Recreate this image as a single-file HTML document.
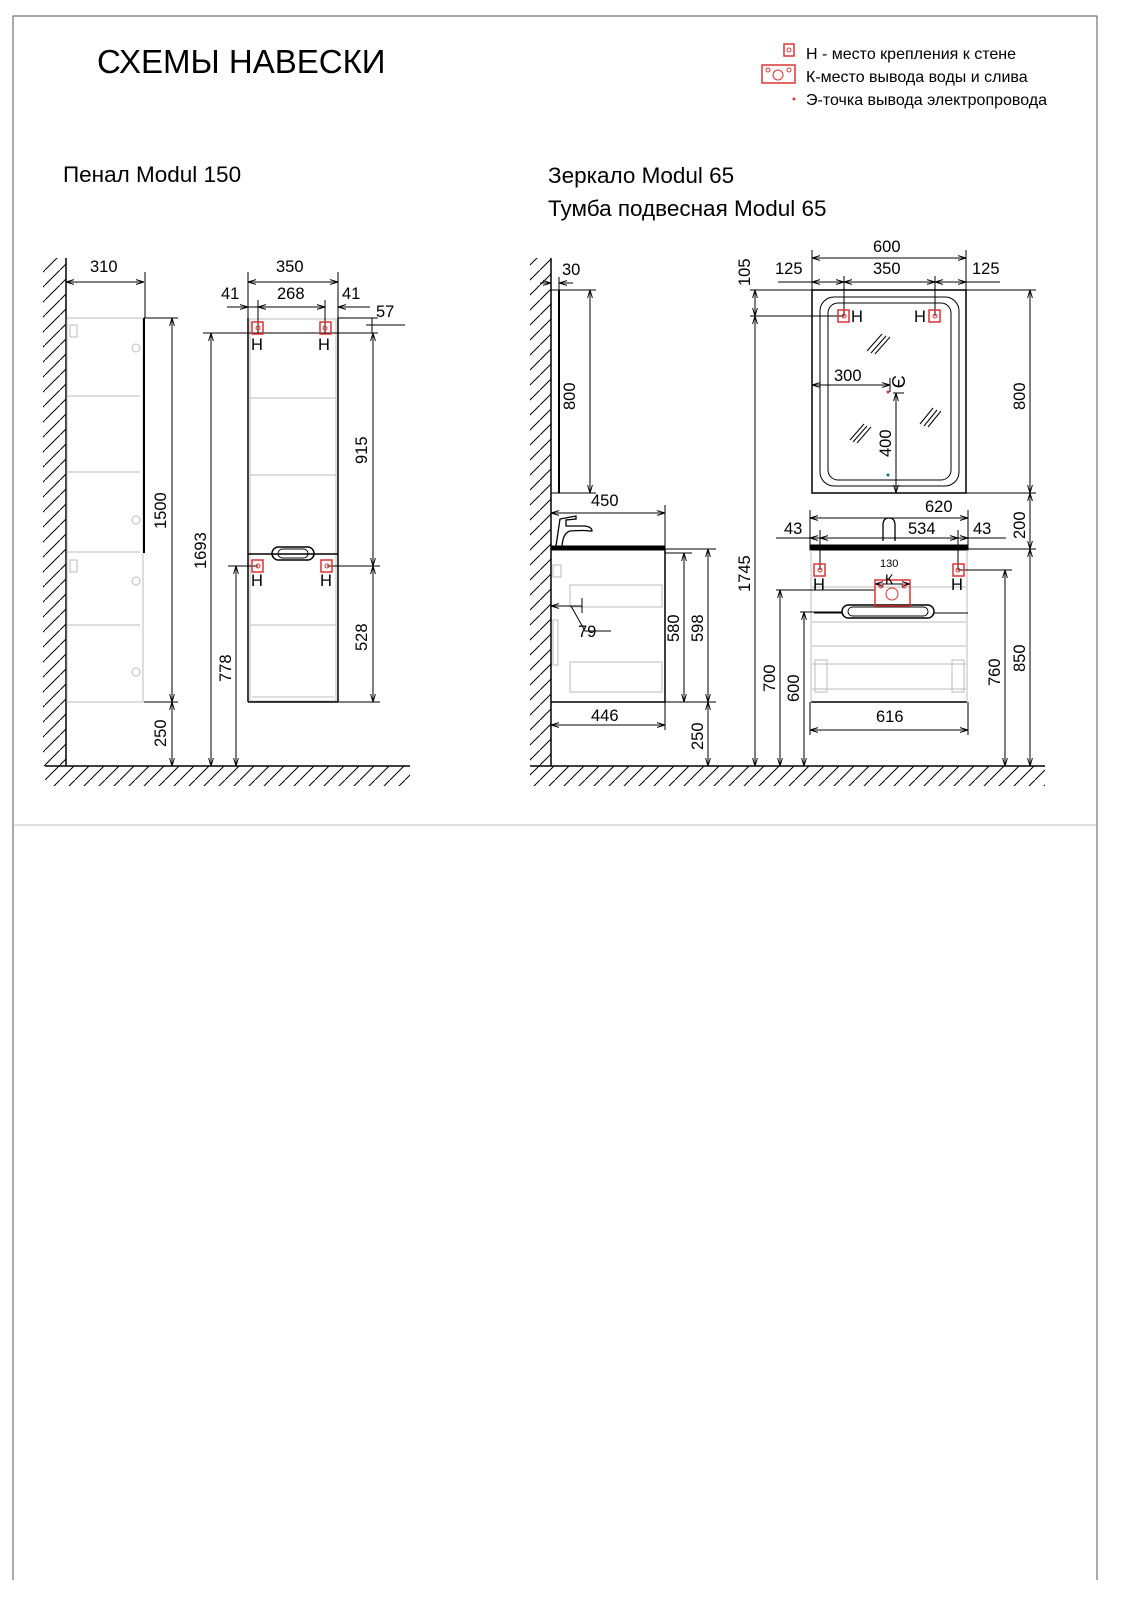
<!DOCTYPE html>
<html><head><meta charset="utf-8"><style>
html,body{margin:0;padding:0;background:#fff}
svg{display:block}
text{font-family:"Liberation Sans","DejaVu Sans",sans-serif;fill:#000}
</style></head><body>
<svg width="1132" height="1600" viewBox="0 0 1132 1600" xmlns="http://www.w3.org/2000/svg">
<defs>
<marker id="a" viewBox="0 0 10 10" refX="10" refY="5" markerWidth="8" markerHeight="8" orient="auto-start-reverse"><path d="M0,2 L10,5 L0,8" fill="none" stroke="#000" stroke-width="1.2"/></marker>
<pattern id="h" patternUnits="userSpaceOnUse" width="15" height="15"><line x1="0" y1="15" x2="15" y2="0" stroke="#000" stroke-width="1"/></pattern>
</defs>
<path d="M13,1580 V16 H1097 V1580" fill="none" stroke="#555" stroke-width="1"/>
<line x1="13" y1="825" x2="1097" y2="825" stroke="#bbb" stroke-width="1"/>
<text x="97" y="73" font-size="33">СХЕМЫ НАВЕСКИ</text>
<rect x="784" y="44" width="10" height="12" fill="none" stroke="#d33" stroke-width="1.5"/><circle cx="789" cy="50" r="2" fill="none" stroke="#d33"/>
<text x="806" y="59" font-size="16">Н - место крепления к стене</text>
<rect x="762" y="65" width="33" height="18" fill="none" stroke="#d33" stroke-width="1.5"/><circle cx="768" cy="70" r="2" fill="none" stroke="#d33"/><circle cx="789" cy="70" r="2" fill="none" stroke="#d33"/><circle cx="778" cy="75" r="5" fill="none" stroke="#d33"/>
<text x="806" y="82" font-size="16">К-место вывода воды и слива</text>
<circle cx="794" cy="99" r="1.5" fill="#d33"/>
<text x="806" y="105" font-size="16">Э-точка вывода электропровода</text>
<text x="63" y="182" font-size="22.5">Пенал Modul 150</text>
<text x="548" y="183" font-size="22.5">Зеркало Modul 65</text>
<text x="548" y="216" font-size="22.5">Тумба подвесная Modul 65</text>

<g stroke="#000" stroke-width="1" fill="none">
<rect x="43" y="258" width="23" height="508" fill="url(#h)" stroke="none"/>
<line x1="66" y1="258" x2="66" y2="766" stroke-width="1.5"/>
<rect x="45" y="766" width="365" height="20" fill="url(#h)" stroke="none"/>
<line x1="45" y1="766" x2="410" y2="766" stroke-width="1.5"/>
<rect x="530" y="258" width="21" height="508" fill="url(#h)" stroke="none"/>
<line x1="551" y1="258" x2="551" y2="766" stroke-width="1.5"/>
<rect x="530" y="766" width="515" height="20" fill="url(#h)" stroke="none"/>
<line x1="530" y1="766" x2="1045" y2="766" stroke-width="1.5"/>

<g stroke="#bbb">
<rect x="67" y="318" width="76" height="384"/>
<line x1="67" y1="396" x2="140" y2="396"/><line x1="67" y1="472" x2="140" y2="472"/>
<line x1="67" y1="552" x2="140" y2="552"/><line x1="67" y1="625" x2="140" y2="625"/>
<rect x="70" y="325" width="7" height="12"/><rect x="70" y="560" width="7" height="12"/>
<circle cx="136" cy="348" r="4"/><circle cx="136" cy="520" r="4"/><circle cx="136" cy="581" r="4"/><circle cx="136" cy="672" r="4"/>
</g>
<line x1="144" y1="318" x2="144" y2="553" stroke-width="2"/>
<line x1="144" y1="318" x2="178" y2="318"/><line x1="144" y1="702" x2="178" y2="702"/>
<line x1="66" y1="282" x2="144" y2="282" marker-start="url(#a)" marker-end="url(#a)"/>
<line x1="145" y1="272" x2="145" y2="318"/>
<line x1="172" y1="318" x2="172" y2="702" marker-start="url(#a)" marker-end="url(#a)"/>
<line x1="172" y1="702" x2="172" y2="766" marker-start="url(#a)" marker-end="url(#a)"/>

<g stroke="#bbb">
<rect x="250" y="319" width="86" height="382"/>
<line x1="250" y1="398" x2="336" y2="398"/><line x1="250" y1="475" x2="336" y2="475"/>
<line x1="250" y1="625" x2="336" y2="625"/><line x1="252" y1="697" x2="334" y2="697"/>
</g>
<line x1="248" y1="318" x2="248" y2="702" stroke-width="1.5"/>
<line x1="338" y1="318" x2="338" y2="702" stroke-width="1.5"/>
<line x1="248" y1="702" x2="338" y2="702" stroke-width="1.5"/>
<line x1="248" y1="554" x2="338" y2="554" stroke-width="1.5"/>
<rect x="272" y="547" width="42" height="13" rx="6.5" stroke-width="1.5"/>
<rect x="278" y="549" width="30" height="9" rx="4.5"/>
<line x1="248" y1="282" x2="338" y2="282" marker-start="url(#a)" marker-end="url(#a)"/>
<line x1="248" y1="272" x2="248" y2="318"/><line x1="338" y1="272" x2="338" y2="318"/>
<line x1="227" y1="307" x2="248" y2="307" marker-end="url(#a)"/>
<line x1="263" y1="307" x2="242" y2="307"/>
<line x1="258" y1="307" x2="325" y2="307" marker-start="url(#a)" marker-end="url(#a)"/>
<line x1="338" y1="307" x2="370" y2="307"/><line x1="360" y1="307" x2="338" y2="307" marker-end="url(#a)"/>
<line x1="258" y1="300" x2="258" y2="333"/><line x1="325" y1="300" x2="325" y2="333"/>
<line x1="338" y1="318" x2="378" y2="318"/>
<line x1="372" y1="318" x2="372" y2="333"/>
<line x1="366" y1="325" x2="405" y2="325"/>
<line x1="258" y1="333" x2="378" y2="333"/>
<line x1="203" y1="333" x2="258" y2="333"/>
<line x1="373" y1="333" x2="373" y2="566" marker-start="url(#a)" marker-end="url(#a)"/>
<line x1="373" y1="566" x2="373" y2="702" marker-start="url(#a)" marker-end="url(#a)"/>
<line x1="338" y1="702" x2="380" y2="702"/>
<line x1="327" y1="566" x2="380" y2="566"/>
<line x1="228" y1="566" x2="258" y2="566"/>
<line x1="211" y1="333" x2="211" y2="766" marker-start="url(#a)" marker-end="url(#a)"/>
<line x1="236" y1="566" x2="236" y2="766" marker-start="url(#a)" marker-end="url(#a)"/>
</g>
<g fill="none" stroke="#d33" stroke-width="1.5">
<rect x="252" y="322" width="11" height="12"/><rect x="320" y="322" width="11" height="12"/>
<rect x="252" y="560" width="11" height="12"/><rect x="321" y="560" width="11" height="12"/>
</g>
<g fill="none" stroke="#d33"><circle cx="258" cy="328" r="2"/><circle cx="325" cy="328" r="2"/><circle cx="258" cy="566" r="2"/><circle cx="327" cy="566" r="2"/></g>
<g font-size="16.5">
<text x="90" y="272">310</text>
<text x="276" y="272">350</text>
<text x="221" y="299">41</text><text x="277" y="299">268</text><text x="342" y="299">41</text>
<text x="376" y="317">57</text>
<text x="251" y="350">Н</text><text x="318" y="350">Н</text>
<text x="251" y="586">Н</text><text x="320" y="586">Н</text>
<text transform="translate(166,529) rotate(-90)">1500</text>
<text transform="translate(166,747) rotate(-90)">250</text>
<text transform="translate(206,569) rotate(-90)">1693</text>
<text transform="translate(231,682) rotate(-90)">778</text>
<text transform="translate(367,464) rotate(-90)">915</text>
<text transform="translate(367,651) rotate(-90)">528</text>
</g>

<g stroke="#000" fill="none">
<line x1="559" y1="290" x2="559" y2="493" stroke-width="2"/>
<line x1="551" y1="290" x2="596" y2="290"/><line x1="551" y1="493" x2="596" y2="493"/>
<line x1="559" y1="277" x2="559" y2="290"/>
<line x1="590" y1="290" x2="590" y2="493" marker-start="url(#a)" marker-end="url(#a)"/>
<line x1="540" y1="283" x2="551" y2="283" marker-end="url(#a)"/><line x1="573" y1="283" x2="559" y2="283" marker-end="url(#a)"/>
<line x1="551" y1="513" x2="665" y2="513" marker-start="url(#a)" marker-end="url(#a)"/>
<line x1="665" y1="505" x2="665" y2="549"/>
<rect x="551" y="546" width="114" height="4" fill="#000"/>
<path d="M556,546 L560,519 L576,516 L576,519 L566,520 L566,526 L585,526 Q592,527 592,531 L589,531 Q585,530 570,531 Q563,533 562,546" stroke-width="1.3"/>
<line x1="551" y1="702" x2="665" y2="702" stroke-width="1.5"/>
<line x1="665" y1="549" x2="665" y2="702" stroke-width="1.5"/>
<g stroke="#bbb"><rect x="553" y="565" width="8" height="12"/><rect x="570" y="585" width="92" height="22"/><rect x="570" y="662" width="92" height="30"/><rect x="553" y="620" width="5" height="45"/></g>
<line x1="551" y1="606" x2="582" y2="606" marker-start="url(#a)"/>
<line x1="582" y1="598" x2="582" y2="613"/>
<path d="M571,606 L585,631 L611,631"/>
<line x1="551" y1="725" x2="665" y2="725" marker-start="url(#a)" marker-end="url(#a)"/>
<line x1="665" y1="702" x2="665" y2="730"/>
<line x1="665" y1="553" x2="692" y2="553"/><line x1="665" y1="549" x2="716" y2="549"/><line x1="665" y1="702" x2="716" y2="702"/>
<line x1="684" y1="553" x2="684" y2="702" marker-start="url(#a)" marker-end="url(#a)"/>
<line x1="708" y1="549" x2="708" y2="702" marker-start="url(#a)" marker-end="url(#a)"/>
<line x1="708" y1="702" x2="708" y2="766" marker-start="url(#a)" marker-end="url(#a)"/>

<rect x="812" y="290" width="154" height="203" stroke-width="1.5"/>
<rect x="820" y="297" width="139" height="189" rx="14"/>
<rect x="828" y="303" width="123" height="177" rx="10"/>
<path d="M867,351 L882,334 M871,353 L886,336 M875,354 L890,337"/>
<path d="M850,440 L864,424 M853,442 L867,426 M857,443 L871,427"/>
<path d="M920,424 L933,408 M924,426 L937,410 M928,427 L941,411"/>
<line x1="812" y1="258" x2="966" y2="258" marker-start="url(#a)" marker-end="url(#a)"/>
<line x1="812" y1="250" x2="812" y2="290"/><line x1="966" y1="250" x2="966" y2="290"/>
<line x1="778" y1="282" x2="812" y2="282"/><line x1="966" y1="282" x2="1000" y2="282"/>
<line x1="812" y1="282" x2="844" y2="282" marker-start="url(#a)" marker-end="url(#a)"/>
<line x1="844" y1="282" x2="935" y2="282" marker-start="url(#a)" marker-end="url(#a)"/>
<line x1="935" y1="282" x2="966" y2="282" marker-start="url(#a)" marker-end="url(#a)"/>
<line x1="844" y1="276" x2="844" y2="316"/><line x1="935" y1="276" x2="935" y2="316"/>
<line x1="750" y1="290" x2="1036" y2="290"/>
<line x1="750" y1="316" x2="844" y2="316"/>
<line x1="755" y1="290" x2="755" y2="316" marker-start="url(#a)" marker-end="url(#a)"/>
<line x1="755" y1="316" x2="755" y2="766" marker-start="url(#a)" marker-end="url(#a)"/>
<line x1="966" y1="493" x2="1036" y2="493"/>
<line x1="1030" y1="290" x2="1030" y2="493" marker-start="url(#a)" marker-end="url(#a)"/>
<line x1="1030" y1="493" x2="1030" y2="549" marker-start="url(#a)" marker-end="url(#a)"/>
<line x1="1030" y1="549" x2="1030" y2="766" marker-start="url(#a)" marker-end="url(#a)"/>
<line x1="812" y1="385" x2="890" y2="385" marker-start="url(#a)" marker-end="url(#a)"/>
<line x1="890" y1="378" x2="890" y2="392"/><line x1="893" y1="393" x2="904" y2="393"/>
<line x1="896" y1="393" x2="896" y2="493" marker-start="url(#a)" marker-end="url(#a)"/>

<line x1="810" y1="518" x2="968" y2="518" marker-start="url(#a)" marker-end="url(#a)"/>
<line x1="810" y1="510" x2="810" y2="549"/><line x1="968" y1="510" x2="968" y2="549"/>
<line x1="776" y1="538" x2="810" y2="538"/><line x1="968" y1="538" x2="1006" y2="538"/>
<line x1="810" y1="538" x2="820" y2="538" marker-start="url(#a)"/>
<line x1="820" y1="538" x2="958" y2="538" marker-start="url(#a)" marker-end="url(#a)"/>
<line x1="958" y1="538" x2="968" y2="538" marker-end="url(#a)"/>
<line x1="820" y1="530" x2="820" y2="570"/><line x1="958" y1="530" x2="958" y2="570"/>
<path d="M883,541 V525 Q883,518 889,518 Q895,518 895,525 V541" stroke-width="1.3"/>
<rect x="810" y="545" width="158" height="5" fill="#000"/>
<line x1="968" y1="549" x2="1036" y2="549"/>
<line x1="811" y1="702" x2="967" y2="702" stroke-width="1.5"/>
<g stroke="#bbb"><line x1="811" y1="550" x2="811" y2="702"/><line x1="967" y1="550" x2="967" y2="702"/>
<line x1="812" y1="587" x2="966" y2="587"/><line x1="812" y1="622" x2="966" y2="622"/><line x1="812" y1="646" x2="966" y2="646"/><line x1="812" y1="664" x2="966" y2="664"/><line x1="812" y1="689" x2="966" y2="689"/>
<rect x="815" y="660" width="12" height="32"/><rect x="952" y="660" width="12" height="32"/></g>
<rect x="842" y="605" width="92" height="13" rx="6.5" stroke-width="1.5"/>
<rect x="848" y="607" width="80" height="9" rx="4.5"/>
<line x1="814" y1="613" x2="842" y2="613"/><line x1="934" y1="613" x2="968" y2="613"/>
<line x1="875" y1="580" x2="875" y2="590"/><line x1="910" y1="580" x2="910" y2="590"/>
<line x1="875" y1="584" x2="910" y2="584" marker-start="url(#a)" marker-end="url(#a)"/>
<line x1="958" y1="570" x2="1012" y2="570"/>
<line x1="776" y1="590" x2="875" y2="590"/>
<line x1="800" y1="612" x2="842" y2="612"/>
<line x1="780" y1="590" x2="780" y2="766" marker-start="url(#a)" marker-end="url(#a)"/>
<line x1="804" y1="612" x2="804" y2="766" marker-start="url(#a)" marker-end="url(#a)"/>
<line x1="1005" y1="570" x2="1005" y2="766" marker-start="url(#a)" marker-end="url(#a)"/>
<line x1="810" y1="730" x2="968" y2="730" marker-start="url(#a)" marker-end="url(#a)"/>
<line x1="810" y1="702" x2="810" y2="735"/><line x1="968" y1="702" x2="968" y2="735"/>
</g>
<g fill="none" stroke="#d33" stroke-width="1.5">
<rect x="838" y="310" width="11" height="12"/><rect x="929" y="310" width="11" height="12"/>
<rect x="814" y="564" width="11" height="12"/><rect x="953" y="564" width="11" height="12"/>
<rect x="875" y="580" width="35" height="26"/>
</g>
<g fill="none" stroke="#d33"><circle cx="844" cy="316" r="2"/><circle cx="935" cy="316" r="2"/><circle cx="820" cy="570" r="2"/><circle cx="958" cy="570" r="2"/>
<circle cx="881" cy="586" r="2"/><circle cx="904" cy="586" r="2"/><circle cx="892" cy="594" r="6"/></g>
<circle cx="888" cy="392" r="1.5" fill="#d33"/>
<circle cx="888" cy="475" r="1.5" fill="#076"/>
<g font-size="16.5">
<text x="562" y="275">30</text>
<text transform="translate(575,410) rotate(-90)">800</text>
<text x="591" y="506">450</text>
<text x="578" y="637">79</text>
<text x="591" y="721">446</text>
<text transform="translate(679,642) rotate(-90)">580</text>
<text transform="translate(703,642) rotate(-90)">598</text>
<text transform="translate(703,750) rotate(-90)">250</text>
<text x="873" y="252">600</text>
<text x="775" y="274">125</text><text x="873" y="274">350</text><text x="972" y="274">125</text>
<text transform="translate(750,286) rotate(-90)">105</text>
<text x="851" y="322">Н</text><text x="914" y="322">Н</text>
<text x="834" y="381">300</text>
<text transform="translate(892,375) rotate(90)" font-size="18">Э</text>
<text transform="translate(891,457) rotate(-90)">400</text>
<text transform="translate(1025,410) rotate(-90)">800</text>
<text transform="translate(750,592) rotate(-90)">1745</text>
<text x="925" y="512">620</text>
<text x="784" y="534">43</text><text x="908" y="534">534</text><text x="973" y="534">43</text>
<text transform="translate(1025,539) rotate(-90)">200</text>
<text x="880" y="567" font-size="11">130</text>
<text x="885" y="584" font-size="14">К</text>
<text x="813" y="590">Н</text><text x="951" y="590">Н</text>
<text x="876" y="722">616</text>
<text transform="translate(775,692) rotate(-90)">700</text>
<text transform="translate(799,702) rotate(-90)">600</text>
<text transform="translate(1000,686) rotate(-90)">760</text>
<text transform="translate(1025,672) rotate(-90)">850</text>
</g>
</svg>
</body></html>
